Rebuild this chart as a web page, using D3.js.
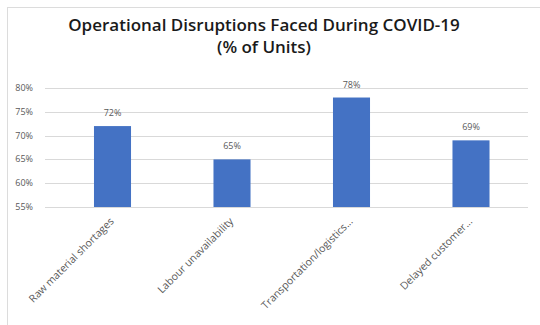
<!DOCTYPE html>
<html>
<head>
<meta charset="utf-8">
<script src="https://cdn.jsdelivr.net/npm/d3@7"></script>
<style>
  body { margin: 0; background: #fff; }
  text { font-family: "Open Sans", sans-serif; }
</style>
</head>
<body>
<svg id="chart" width="540" height="325"></svg>
<script>
const categories = ['Raw material shortages', 'Labour unavailability', 'Transportation/logistics...', 'Delayed customer...'];
const values = [72, 65, 78, 69];
const yTicks = [55, 60, 65, 70, 75, 80];

const svg = d3.select('#chart');

// faint frame, only top and left edges are visible
svg.append('line').attr('x1', 7).attr('x2', 540).attr('y1', 7.5).attr('y2', 7.5)
  .attr('stroke', '#dcdcdc');
svg.append('line').attr('x1', 7.5).attr('x2', 7.5).attr('y1', 7).attr('y2', 325)
  .attr('stroke', '#dcdcdc');

svg.append('text')
  .attr('x', 264).attr('y', 31)
  .attr('text-anchor', 'middle')
  .attr('font-size', 17).attr('font-weight', 600).attr('fill', '#1a1a1a')
  .text('Operational Disruptions Faced During COVID-19');
svg.append('text')
  .attr('x', 264).attr('y', 53)
  .attr('text-anchor', 'middle')
  .attr('font-size', 17).attr('font-weight', 600).attr('fill', '#1a1a1a')
  .text('(% of Units)');

const x = d3.scaleBand().domain(categories).range([52.75, 530.75])
  .paddingInner(0.69).paddingOuter(0.345);
const y = d3.scaleLinear().domain([55, 80]).range([207, 88]);

const g = svg.append('g');

g.selectAll('.grid')
  .data(yTicks)
  .enter()
  .append('line')
  .attr('class', 'grid')
  .attr('x1', 45).attr('x2', 528)
  .attr('y1', d => Math.round(y(d)) + 0.5)
  .attr('y2', d => Math.round(y(d)) + 0.5)
  .attr('stroke', '#d9d9d9');

g.selectAll('.ytick')
  .data(yTicks)
  .enter()
  .append('text')
  .attr('class', 'ytick')
  .attr('x', 33)
  .attr('y', d => y(d) + 3)
  .attr('text-anchor', 'end')
  .attr('font-size', 9).attr('fill', '#595959')
  .text(d => d + '%');

g.selectAll('.bar')
  .data(values)
  .enter()
  .append('rect')
  .attr('class', 'bar')
  .attr('x', (d, i) => x(categories[i]))
  .attr('width', x.bandwidth())
  .attr('y', d => y(d))
  .attr('height', d => y(55) - y(d))
  .attr('fill', '#4472c4');

g.selectAll('.val')
  .data(values)
  .enter()
  .append('text')
  .attr('class', 'val')
  .attr('x', (d, i) => x(categories[i]) + x.bandwidth() / 2)
  .attr('y', d => y(d) - 10)
  .attr('text-anchor', 'middle')
  .attr('font-size', 9).attr('fill', '#595959')
  .text(d => d + '%');

g.selectAll('.xlab')
  .data(categories)
  .enter()
  .append('text')
  .attr('class', 'xlab')
  .attr('text-anchor', 'end')
  .attr('font-size', 10.5).attr('fill', '#595959')
  .attr('transform', d => `translate(${x(d) + x.bandwidth() / 2 + 2},${222}) rotate(-45)`)
  .text(d => d);
</script>
</body>
</html>
